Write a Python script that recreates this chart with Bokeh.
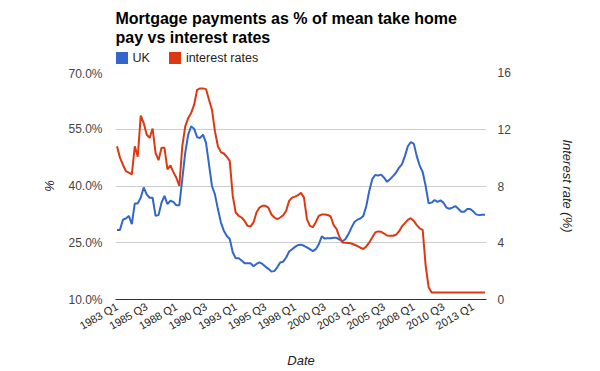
import math
from bokeh.plotting import figure
from bokeh.layouts import column
from bokeh.models import (Range1d, LinearAxis, FixedTicker, PrintfTickFormatter,
                          Legend, LegendItem, Label)
from bokeh.embed import file_html
from bokeh.resources import INLINE

# ---------------- data ----------------
TITLE_LINES = ["Mortgage payments as % of mean take home", "pay vs interest rates"]
SERIES_NAMES = ["UK", "interest rates"]
TICK_INDEX = [0, 10, 20, 30, 40, 50, 60, 70, 80, 90, 100, 110, 120]
TICK_LABELS = ["1983 Q1", "1985 Q3", "1988 Q1", "1990 Q3", "1993 Q1", "1995 Q3",
               "1998 Q1", "2000 Q3", "2003 Q1", "2005 Q3", "2008 Q1", "2010 Q3",
               "2013 Q1"]
LEFT_TICKS = [10, 25, 40, 55, 70]
RIGHT_TICKS = [0, 4, 8, 12, 16]

# mortgage payments as % of mean take home pay (quarterly, 1983 Q1 .. 2014 Q1)
UK = [28.4, 28.4, 31.1, 31.4, 32.1, 29.9, 35.4, 35.4, 36.9, 39.6,
      37.8, 36.9, 36.9, 32.1, 32.3, 35.6, 37.4, 35.2, 36.1, 35.8,
      34.9, 34.9, 41.8, 48.8, 53.6, 55.8, 55.1, 52.9, 52.7, 53.6,
      51.4, 45.7, 40.0, 37.8, 33.9, 30.4, 28.2, 26.8, 26.0, 22.5,
      20.9, 20.9, 20.3, 19.6, 19.6, 19.6, 18.8, 19.4, 19.8, 19.4,
      18.7, 18.1, 17.4, 17.5, 18.5, 19.8, 20.0, 21.1, 22.7, 23.3,
      23.9, 24.4, 24.5, 24.2, 23.8, 23.3, 22.8, 23.3, 24.6, 26.7,
      26.1, 26.2, 26.2, 26.3, 26.3, 25.8, 25.4, 26.0, 27.3, 29.0,
      30.5, 31.1, 31.4, 32.1, 34.7, 38.7, 41.8, 42.9, 42.8, 43.0,
      42.2, 41.1, 41.8, 42.6, 43.5, 44.8, 45.7, 47.9, 50.5, 51.6,
      51.2, 47.9, 45.4, 43.7, 40.0, 35.4, 35.6, 36.3, 35.8, 36.2,
      35.6, 34.3, 34.0, 34.3, 34.7, 34.0, 33.2, 33.2, 33.9, 33.9,
      33.3, 32.5, 32.3, 32.4, 32.4]

# interest rate (%)
RATE = [10.8, 10.0, 9.5, 9.05, 8.94, 8.82, 10.8, 10.06, 12.96, 12.44,
        11.63, 11.39, 12.05, 10.34, 9.82, 10.69, 10.69, 9.17, 9.45, 8.98,
        8.58, 8.0, 10.8, 12.2, 12.8, 13.15, 13.73, 14.78, 14.88, 14.88,
        14.83, 14.08, 13.38, 11.86, 10.8, 10.39, 10.29, 10.06, 9.75, 7.3,
        6.13, 5.9, 5.78, 5.54, 5.19, 5.15, 5.43, 6.13, 6.48, 6.6,
        6.6, 6.48, 6.01, 5.78, 5.66, 5.78, 5.94, 6.25, 6.95, 7.18,
        7.25, 7.35, 7.53, 7.18, 5.66, 5.19, 5.1, 5.47, 5.9, 5.99,
        5.99, 5.96, 5.85, 5.24, 4.96, 4.37, 4.02, 4.0, 3.98, 3.95,
        3.86, 3.77, 3.65, 3.56, 3.74, 4.02, 4.37, 4.73, 4.8, 4.77,
        4.65, 4.51, 4.49, 4.49, 4.56, 4.8, 5.15, 5.38, 5.61, 5.73,
        5.54, 5.24, 5.01, 4.91, 2.39, 0.87, 0.5, 0.5, 0.5, 0.5,
        0.5, 0.5, 0.5, 0.5, 0.5, 0.5, 0.5, 0.5, 0.5, 0.5,
        0.5, 0.5, 0.5, 0.5, 0.5]

# ---------------- styling ----------------
BLUE = "#3366cc"
RED = "#dc3912"
FONT = "Liberation Sans"
W = 600
HEAD_H = 66
MAIN_H = 305

# ---------------- header: title + legend ----------------
# (the column layout aligns this header's frame with the chart's plot area)
head = figure(width=W, height=HEAD_H, output_backend="svg", toolbar_location=None,
              x_range=Range1d(0, 1), y_range=Range1d(0, 1),
              x_axis_location=None, y_axis_location=None, title_location=None,
              min_border_left=0, min_border_right=0, min_border_top=0,
              min_border_bottom=0)
head.outline_line_color = None
head.xgrid.visible = False
head.ygrid.visible = False
head.background_fill_color = "white"
head.border_fill_color = "white"

for txt, yb in zip(TITLE_LINES, [HEAD_H - 17.7, HEAD_H - 37]):
    head.add_layout(Label(x=0, y=yb, x_units="screen", y_units="screen", text=txt,
                          text_font=FONT, text_font_size="16px",
                          text_font_style="bold", text_color="#000000",
                          text_align="left", text_baseline="alphabetic"))

nan = float("nan")
sw_uk = head.quad(left=[nan], right=[nan], top=[nan], bottom=[nan],
                  fill_color=BLUE, line_color=None)
sw_rate = head.quad(left=[nan], right=[nan], top=[nan], bottom=[nan],
                    fill_color=RED, line_color=None)
legend = Legend(items=[LegendItem(label=SERIES_NAMES[0], renderers=[sw_uk]),
                       LegendItem(label=SERIES_NAMES[1], renderers=[sw_rate])],
                orientation="horizontal", location=(-1.5, HEAD_H - 65),
                glyph_width=15, glyph_height=15, label_height=15, label_width=17,
                label_standoff=4, spacing=17, padding=0, margin=0,
                label_text_font=FONT, label_text_font_size="12.5px",
                label_text_color="#222222",
                border_line_alpha=0, background_fill_alpha=0)
head.add_layout(legend, "center")

# ---------------- main chart ----------------
x = list(range(len(UK)))

p = figure(width=W, height=MAIN_H, output_backend="svg", toolbar_location=None,
           x_range=Range1d(-0.5, len(UK) - 0.5),
           y_range=Range1d(LEFT_TICKS[0], LEFT_TICKS[-1]),
           title_location=None,
           min_border_left=115, min_border_right=114,
           min_border_top=6, min_border_bottom=72)
p.extra_y_ranges = {"rate": Range1d(RIGHT_TICKS[0], RIGHT_TICKS[-1])}
p.outline_line_color = None
p.background_fill_color = "white"
p.border_fill_color = "white"

# x axis
xa = p.xaxis[0]
xa.ticker = FixedTicker(ticks=TICK_INDEX)
xa.major_label_overrides = {i: lab for i, lab in zip(TICK_INDEX, TICK_LABELS)}
xa.major_label_orientation = math.pi / 6
xa.major_label_text_font = FONT
xa.major_label_text_font_size = "11px"
xa.major_label_text_color = "#222222"
xa.major_tick_line_color = None
xa.minor_tick_line_color = None
xa.major_tick_out = 0
xa.major_tick_in = 0
xa.minor_tick_out = 0
xa.major_label_standoff = 6
xa.axis_line_color = "#333333"
xa.axis_label = "Date"
xa.axis_label_text_font = FONT
xa.axis_label_text_font_size = "13px"
xa.axis_label_text_font_style = "italic"
xa.axis_label_text_color = "#222222"
xa.axis_label_standoff = 13

# left axis
ya = p.yaxis[0]
ya.ticker = FixedTicker(ticks=LEFT_TICKS)
ya.formatter = PrintfTickFormatter(format="%.1f%%")
ya.major_label_text_font = FONT
ya.major_label_text_font_size = "12px"
ya.major_label_text_color = "#444444"
ya.major_tick_line_color = None
ya.minor_tick_line_color = None
ya.major_tick_out = 0
ya.major_tick_in = 0
ya.minor_tick_out = 0
ya.axis_line_color = None
ya.major_label_standoff = 13
ya.axis_label = "%"
ya.axis_label_text_font = FONT
ya.axis_label_text_font_size = "13px"
ya.axis_label_text_font_style = "italic"
ya.axis_label_text_color = "#222222"
ya.axis_label_standoff = 8

# right axis (default parallel orientation keeps the title centred on the axis)
ra = LinearAxis(y_range_name="rate", ticker=FixedTicker(ticks=RIGHT_TICKS))
ra.major_label_text_font = FONT
ra.major_label_text_font_size = "12px"
ra.major_label_text_color = "#444444"
ra.major_tick_line_color = None
ra.minor_tick_line_color = None
ra.major_tick_out = 0
ra.major_tick_in = 0
ra.minor_tick_out = 0
ra.axis_line_color = None
ra.major_label_standoff = 11
ra.axis_label = "Interest rate (%)"
ra.axis_label_text_font = FONT
ra.axis_label_text_font_size = "13px"
ra.axis_label_text_font_style = "italic"
ra.axis_label_text_color = "#222222"
ra.axis_label_standoff = 46
p.add_layout(ra, "right")

# grid
p.xgrid.grid_line_color = None
p.ygrid.ticker = FixedTicker(ticks=LEFT_TICKS)
p.ygrid.grid_line_color = "#cccccc"

# lines
p.line(x, UK, line_color=BLUE, line_width=2)
p.line(x, RATE, line_color=RED, line_width=2, y_range_name="rate")

layout = column(head, p, spacing=0)
open("out.html", "w").write(file_html(layout, INLINE))
